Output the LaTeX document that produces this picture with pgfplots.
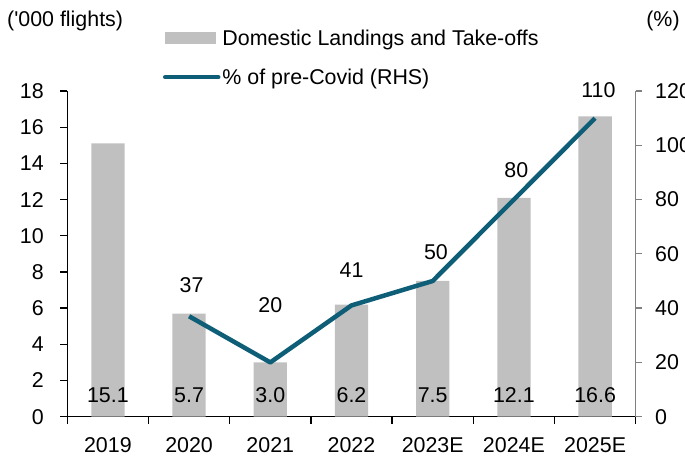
\documentclass[border=0pt]{standalone}
\usepackage{fontspec}
\setmainfont{Liberation Sans}
\usepackage{pgfplots}
\pgfplotsset{compat=1.18}
\definecolor{barcol}{RGB}{192,192,192}
\definecolor{linecol}{RGB}{14,94,120}
\definecolor{raxis}{RGB}{128,128,128}
\newcommand{\cf}{\fontsize{21.4}{25}\selectfont}
\begin{document}
\begin{tikzpicture}
\useasboundingbox (0,0) rectangle (685pt,457pt);
\node[anchor=west, font=\cf, inner sep=0pt] at (7pt,436pt) {(\textquotesingle000 flights)};
\node[anchor=center, font=\cf, inner sep=0pt] at (663pt,436pt) {(\%)};
\begin{axis}[
  at={(67.3pt,40.3pt)}, anchor=south west,
  scale only axis, width=568.4pt, height=325.7pt,
  xmin=-0.5, xmax=6.5, ymin=0, ymax=18,
  axis x line*=bottom, axis y line*=left,
  axis line style={black, line width=1.3pt},
  every tick/.style={black, line width=1.3pt},
  ytick={0,2,...,18},
  xtick={-0.5,0.5,...,6.5}, xticklabels={},
  extra x ticks={0,1,2,3,4,5,6},
  extra x tick labels={2019,2020,2021,2022,2023E,2024E,2025E},
  extra x tick style={major tick length=0pt},
  tick align=outside,
  major tick length=7pt,
  tick label style={font=\cf},
  /pgf/number format/assume math mode=true,
  xticklabel style={yshift=-17pt},
  yticklabel style={xshift=-13pt},
  clip=false,
]
\addplot[ybar, bar width=0.41, fill=barcol, draw=none] coordinates {(0,15.1)(1,5.7)(2,3.0)(3,6.2)(4,7.5)(5,12.1)(6,16.6)};
\node[font=\cf] at (axis cs:0,1.2) {15.1};
\node[font=\cf] at (axis cs:1,1.2) {5.7};
\node[font=\cf] at (axis cs:2,1.2) {3.0};
\node[font=\cf] at (axis cs:3,1.2) {6.2};
\node[font=\cf] at (axis cs:4,1.2) {7.5};
\node[font=\cf] at (axis cs:5,1.2) {12.1};
\node[font=\cf] at (axis cs:6,1.2) {16.6};
\end{axis}
\begin{axis}[
  at={(67.3pt,40.3pt)}, anchor=south west,
  scale only axis, width=568.4pt, height=325.7pt,
  xmin=-0.5, xmax=6.5, ymin=0, ymax=120,
  axis y line*=right, axis x line=none,
  y axis line style={raxis, line width=1.3pt},
  every tick/.style={raxis, line width=1.3pt},
  ytick={0,20,...,120},
  tick align=outside, major tick length=6pt,
  tick label style={font=\cf},
  /pgf/number format/assume math mode=true,
  yticklabel style={xshift=10pt},
  clip=false,
  legend style={at={(0.168,1.195)}, anchor=north west, draw=none, fill=none,
    font=\cf, row sep=18pt, inner sep=0pt, legend cell align=left},
]
\addlegendimage{legend image code/.code={\fill[barcol] (0pt,-5.5pt) rectangle (50pt,5.5pt);}}
\addlegendentry{Domestic Landings and Take-offs}
\addplot[linecol, line width=4.5pt, line join=round, mark=none,
  legend image code/.code={\draw[linecol,line width=4.5pt,line cap=round](0pt,0pt)--(53pt,0pt);}]
  coordinates {(1,37)(2,20)(3,41)(4,50)(5,80)(6,110)};
\addlegendentry{\% of pre-Covid (RHS)}
\node[font=\cf] at (axis cs:1.03,48.5) {37};
\node[font=\cf] at (axis cs:2.0,41.2) {20};
\node[font=\cf] at (axis cs:3.0,54.0) {41};
\node[font=\cf] at (axis cs:4.04,60.8) {50};
\node[font=\cf] at (axis cs:5.03,90.9) {80};
\node[font=\cf] at (axis cs:6.04,120.4) {110};
\end{axis}
\end{tikzpicture}
\end{document}
